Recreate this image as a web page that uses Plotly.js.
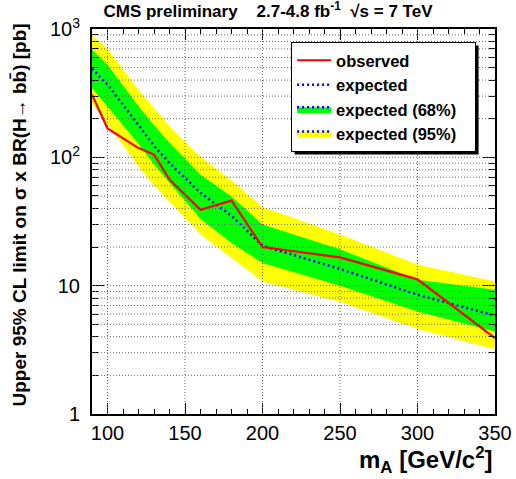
<!DOCTYPE html>
<html><head><meta charset="utf-8">
<script src="https://cdn.plot.ly/plotly-3.0.1.min.js"></script>
<style>html,body{margin:0;padding:0;background:#fff}#chart{width:516px;height:479px}</style>
</head><body><div id="chart"></div>
<script>
// ---- data ----
const massPoints  = [90, 100, 120, 130, 140, 160, 180, 200, 250, 300, 350];
const observed    = [308, 168, 118, 105, 67, 39, 46, 20, 16.6, 11.2, 3.9];
const expected    = [491, 369, 178, 123, 90, 53, 35, 20.5, 13.5, 8.5, 5.85];
const band68Upper = [690, 525, 250, 178, 130, 73, 49.5, 30, 19.2, 11.1, 9.3];
const band68Lower = [347, 250, 127, 88, 63, 33, 21.5, 15, 10, 6.3, 4.4];
const band95Upper = [900, 700, 335, 240, 175, 101, 66, 41, 25, 14.6, 10.8];
const band95Lower = [265, 182, 85, 60, 45, 25, 16.4, 10.8, 7.5, 4.6, 3.2];
const xTickVals   = [100, 150, 200, 250, 300, 350];
const yDecades    = [1, 10, 100, 1000];
const yDecadeText = ['1', '10', '10<sup>2</sup>', '10<sup>3</sup>'];
const minorSteps  = [1, 2, 3, 4, 5, 6, 7, 8, 9];
const legendNames = ['observed', 'expected', 'expected (68%)', 'expected (95%)'];

// ---- build ----
const FONT = 'Liberation Sans, Arial, Helvetica, sans-serif';
const yTickVals = [], yTickText = [];
yDecades.forEach((d, i) => {
  if (d === 1000) { yTickVals.push(d); yTickText.push(yDecadeText[i]); return; }
  minorSteps.forEach(m => { yTickVals.push(d * m); yTickText.push(m === 1 ? yDecadeText[i] : ''); });
});

function band(up, lo) {
  return { x: massPoints.concat(massPoints.slice().reverse()),
           y: up.concat(lo.slice().reverse()) };
}
const b95 = band(band95Upper, band95Lower);
const b68 = band(band68Upper, band68Lower);
const YELLOW = '#ffff00', GREEN = '#00ff00', BLUE = '#0000ff', RED = '#ff0000';
const blueLine = { color: BLUE, width: 2.5, dash: '2px,3px' };
const widen = '<span style="color:rgba(0,0,0,0)">\u00a0n</span>';

const traces = [
  { x: b95.x, y: b95.y, mode: 'lines', fill: 'toself', fillcolor: YELLOW, line: { width: 0, color: YELLOW }, showlegend: false, hoverinfo: 'skip' },
  { x: b68.x, y: b68.y, mode: 'lines', fill: 'toself', fillcolor: GREEN, line: { width: 0, color: GREEN }, showlegend: false, hoverinfo: 'skip' },
  { x: massPoints, y: expected, mode: 'lines', line: blueLine, showlegend: false },
  { x: massPoints, y: observed, mode: 'lines', line: { color: RED, width: 2.2 }, showlegend: false },
  // legend entries
  { x: [null], y: [null], mode: 'lines', name: '<b>' + legendNames[0] + '</b>', line: { color: RED, width: 2.2 } },
  { x: [null], y: [null], mode: 'lines', name: '<b>' + legendNames[1] + '</b>', line: blueLine },
  { x: [null], y: [null], mode: 'lines', name: '<b>' + legendNames[2] + '</b>', fill: 'toself', fillcolor: GREEN, line: blueLine },
  { x: [null], y: [null], mode: 'lines', name: '<b>' + legendNames[3] + '</b>' + widen, fill: 'toself', fillcolor: YELLOW, line: blueLine },
  // carrier for the major-tick overlay axis
  { x: [null], y: [null], yaxis: 'y2', mode: 'lines', showlegend: false, hoverinfo: 'skip' }
];

const gridLine = { color: '#666', width: 1, dash: '1px,2px' };
const shapes = [];
xTickVals.forEach(v => { if (v < 350) shapes.push({ type: 'line', xref: 'x', yref: 'paper', x0: v, x1: v, y0: 0, y1: 1, line: gridLine, layer: 'above' }); });
yTickVals.forEach(v => { if (v > 1 && v < 1000) shapes.push({ type: 'line', xref: 'paper', yref: 'y', x0: 0, x1: 1, y0: v, y1: v, line: gridLine, layer: 'above' }); });
// legend shadow (repositioned to the real legend box after drawing)
const shadowIndex = shapes.length;
shapes.push({ type: 'rect', xref: 'paper', yref: 'paper', x0: 0.501, x1: 0.9553, y0: 0.7039, y1: 0.9584, fillcolor: '#000', line: { width: 0 }, layer: 'above' });

const M = { l: 92, r: 21, t: 29, b: 65 };
const W = 516, H = 479;
const layout = {
  width: W, height: H,
  margin: M,
  paper_bgcolor: '#fff', plot_bgcolor: '#fff',
  font: { family: FONT, color: '#000' },
  showlegend: true,
  title: { text: '<b>CMS preliminary\u00a0\u00a0\u00a0 2.7-4.8 fb<sup>-1</sup>\u00a0\u00a0√s = 7 TeV</b>',
           font: { family: FONT, size: 17, color: '#000' }, xref: 'container', x: 268 / 516, xanchor: 'center',
           yref: 'container', y: 1 - 5 / 479, yanchor: 'top' },
  xaxis: { type: 'linear', range: [90, 350], tickvals: xTickVals, ticks: 'inside', ticklen: 11, tickwidth: 1, tickcolor: '#000',
           minor: { dtick: 10, tick0: 90, ticks: 'inside', ticklen: 5, tickwidth: 1, tickcolor: '#000', showgrid: false },
           showline: true, linewidth: 2, linecolor: '#000', mirror: 'ticks', showgrid: false, zeroline: false,
           tickfont: { family: FONT, size: 20, color: '#000' }, ticklabelstandoff: 0 },
  yaxis: { type: 'log', range: [0, 3], tickvals: yTickVals, ticktext: yTickText, ticks: 'inside', ticklen: 6, tickwidth: 1, tickcolor: '#000',
           showline: true, linewidth: 2, linecolor: '#000', mirror: 'ticks', showgrid: false, zeroline: false,
           tickfont: { family: FONT, size: 20, color: '#000' }, ticklabelstandoff: 6 },
  yaxis2: { type: 'log', range: [0, 3], overlaying: 'y', side: 'left', tickvals: yDecades, ticks: 'inside', ticklen: 12, tickwidth: 1,
            tickcolor: '#000', showticklabels: false, showline: true, linewidth: 2, linecolor: '#000', mirror: 'ticks', showgrid: false, zeroline: false },
  legend: { x: 0.494, y: 0.9662, xanchor: 'left', yanchor: 'top', bgcolor: '#fff', bordercolor: '#000', borderwidth: 1,
            itemwidth: 34, font: { family: FONT, size: 16.5, color: '#000' }, traceorder: 'normal' },
  shapes: shapes,
  annotations: [
    { text: '<b>m<sub>A</sub> [GeV/c<sup>2</sup>]</b>', xref: 'paper', yref: 'paper', x: 1.0, y: -0.069, xanchor: 'right', yanchor: 'top',
      showarrow: false, font: { family: FONT, size: 24, color: '#000' } },
    { text: '<b>Upper 95% CL limit on σ x BR(H→ bb\u0304) [pb]</b>', xref: 'paper', yref: 'paper', x: (19 - 92) / 403, y: (414 - 22) / 385,
      xanchor: 'center', yanchor: 'top', textangle: -90, showarrow: false, font: { family: FONT, size: 19, color: '#000' } }
  ]
};

const gd = document.getElementById('chart');
Plotly.newPlot(gd, traces, layout, { staticPlot: true, displayModeBar: false }).then(() => {
  const bg = gd.querySelector('.legend rect.bg');
  if (!bg) return;
  const r = bg.getBoundingClientRect(), c = gd.getBoundingClientRect();
  const pw = W - M.l - M.r, ph = H - M.t - M.b, off = 3;
  const left = r.left - c.left + off, right = r.right - c.left + off;
  const top = r.top - c.top + off, bottom = r.bottom - c.top + off;
  const upd = {};
  upd['shapes[' + shadowIndex + '].x0'] = (left - M.l) / pw;
  upd['shapes[' + shadowIndex + '].x1'] = (right - M.l) / pw;
  upd['shapes[' + shadowIndex + '].y0'] = (H - M.b - bottom) / ph;
  upd['shapes[' + shadowIndex + '].y1'] = (H - M.b - top) / ph;
  return Plotly.relayout(gd, upd);
});
</script></body></html>
